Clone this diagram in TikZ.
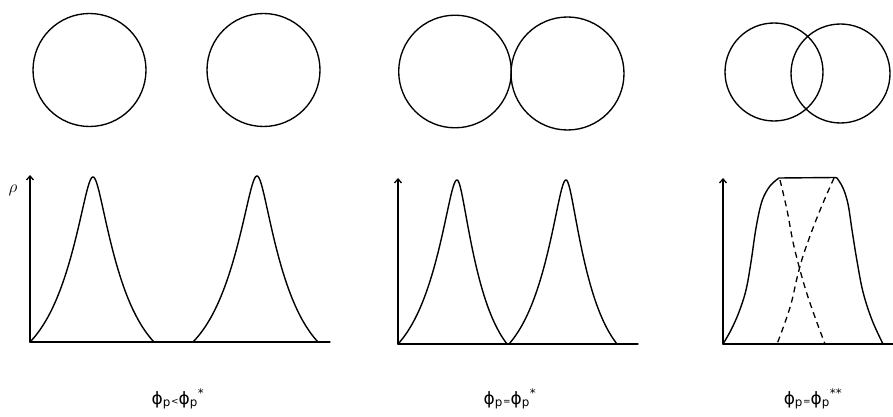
\documentclass[tikz,border=0pt]{standalone}
\usepackage{fontspec}
\newfontfamily\labfont{DejaVu Sans}
\usetikzlibrary{arrows.meta}
% peak profile: rounded exponential cusp, h(t) with t in [0,1]
\def\pk{2.0}
\def\pd{0.11}
\newcommand\sechpeak[5]{% left base, centre, right base, base y, top y
  \draw[curve] plot[domain=#1:#2,samples=60,variable=\t] (\t,{#4-(#4-#5)*(exp(-\pk*sqrt(((#2-\t)/(#2-#1))^2+\pd^2))-exp(-\pk*sqrt(1+\pd^2)))/(exp(-\pk*\pd)-exp(-\pk*sqrt(1+\pd^2)))})
   -- plot[domain=#2:#3,samples=60,variable=\t] (\t,{#4-(#4-#5)*(exp(-\pk*sqrt(((\t-#2)/(#3-#2))^2+\pd^2))-exp(-\pk*sqrt(1+\pd^2)))/(exp(-\pk*\pd)-exp(-\pk*sqrt(1+\pd^2)))});}
\newcommand\phip{ϕ\textsubscript{p}}
\begin{document}
\begin{tikzpicture}[x=1pt,y=-1pt,line cap=round,line join=round,
  ring/.style={line width=1.35pt},
  curve/.style={line width=1.4pt},
  axis/.style={line width=1.3pt},
  yax/.style={line width=1.3pt,-{Straight Barb[length=4pt,width=7pt]}},
  dcurve/.style={line width=1.3pt,dash pattern=on 6pt off 4.5pt,line cap=butt},
  lab/.style={font=\fontsize{17}{20}\labfont,inner sep=0pt,anchor=base}]
\useasboundingbox (0,0) rectangle (893,417);
% circles
\draw[ring] (89.5,70) circle[radius=56.5];
\draw[ring] (263.5,70) circle[radius=56.5];
\draw[ring] (455,71.5) circle[radius=56.3];
\draw[ring] (567.5,73.5) circle[radius=56.5];
\draw[ring] (774,72) circle[radius=49];
\draw[ring] (840.5,73.5) circle[radius=49.5];
% panel 1
\coordinate (o1) at (30,342);
\draw[yax] (o1) -- (30,175);
\draw[axis] (o1) -- (330,342);
\node[font=\fontsize{17}{18}\selectfont,inner sep=0pt] (rho) at (13,190) {$\rho$};
\sechpeak{30}{93}{154}{342}{177}
\sechpeak{193}{257}{318}{342}{176}
% panel 2
\coordinate (o2) at (398,344);
\draw[yax] (o2) -- (398,178);
\draw[axis] (o2) -- (638,344);
\sechpeak{398}{457}{507}{344}{180}
\sechpeak{509}{566}{617}{344}{180}
% panel 3
\coordinate (o3) at (723,344);
\draw[yax] (o3) -- (723,178);
\draw[axis] (o3) -- (893,344);
\draw[curve] plot[smooth,tension=0.6] coordinates {(723,344) (731,330) (739,312) (746,290) (751,262) (756,228) (762,201) (770,186) (779,178)}
  -- (835,177.5)
  -- plot[smooth,tension=0.6] coordinates {(837,178) (843,188) (848,204) (852,230) (857,261) (863,292) (872,320) (883,344)};
\draw[dcurve] plot[smooth,tension=0.6] coordinates {(780,180) (787,210) (793,242) (800,270) (807,294) (816,320) (825,344)};
\draw[dcurve] plot[smooth,tension=0.6] coordinates {(834,178) (823,203) (813,228) (803,256) (797,278) (791,304) (783,328) (777,344)};
% labels
\node[lab] (l1) at (178,404) {\phip{\small<}\phip\textsuperscript{*}};
\node[lab] (l2) at (510,404) {\phip{\small=}\phip\textsuperscript{*}};
\node[lab] (l3) at (813,404) {\phip{\small=}\phip\textsuperscript{**}};
\end{tikzpicture}
\end{document}
